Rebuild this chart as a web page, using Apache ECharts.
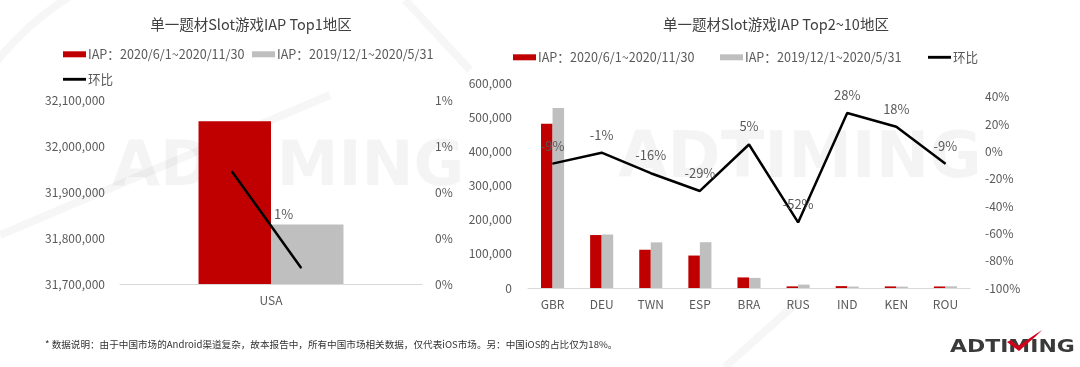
<!DOCTYPE html>
<html><head><meta charset="utf-8">
<script src="https://cdn.jsdelivr.net/npm/echarts@6/dist/echarts.min.js"></script>
<style>html,body{margin:0;padding:0;background:#fff}#c{width:1080px;height:367px}</style>
</head><body><div id="c"></div>
<script>
// ---- data ----
const seriesNames = ['IAP：2020/6/1~2020/11/30', 'IAP：2019/12/1~2020/5/31', '环比'];
const titles = ['单一题材Slot游戏IAP Top1地区', '单一题材Slot游戏IAP Top2~10地区'];

const top1Categories = ['USA'];
const top1Current = [32054000];
const top1Previous = [31829500];
const top1Growth = 0.007;            // 环比 (label shows 1%)
const top1LineX = [0.37, 0.6];       // drawn segment of the 环比 line (hidden value axis 0..1)
const top1LineY = [0.0049, 0.0007];  // on right axis
const top1LeftTicks = [31700000, 32100000, 100000];
const top1RightTicks = [0, 0.008, 0.002];

const top10Categories = ['GBR', 'DEU', 'TWN', 'ESP', 'BRA', 'RUS', 'IND', 'KEN', 'ROU'];
const top10Current = [481000, 155000, 112000, 95000, 31000, 4800, 5500, 4700, 4500];
const top10Previous = [527000, 156500, 133500, 134000, 29500, 10000, 4300, 4000, 4950];
const top10Growth = [-9, -1, -16, -29, 5, -52, 28, 18, -9];
const top10LeftTicks = [0, 600000, 100000];
const top10RightTicks = [-100, 50, 20];

const footnote = '* 数据说明：由于中国市场的Android渠道复杂，故本报告中，所有中国市场相关数据，仅代表iOS市场。另：中国iOS的占比仅为18%。';

// ---- styles ----
const FONT = '"Noto Sans CJK SC", "Noto Sans", sans-serif';
const RED = '#C00000', GRAY = '#BFBFBF', TXT = '#595959';
const axisLab = { color: TXT, fontSize: 12, fontFamily: FONT };
const LINE_ICON = 'path://M0,0H24V3H0Z';

const chart = echarts.init(document.getElementById('c'), null, { renderer: 'canvas' });

const mid = [(top1LineX[0] + top1LineX[1]) / 2, (top1LineY[0] + top1LineY[1]) / 2];
const top1LineData = [
  [top1LineX[0], top1LineY[0]],
  { value: mid, label: { show: true, formatter: Math.round(top1Growth * 100) + '%' } },
  [top1LineX[1], top1LineY[1]]
];

function legendItem(left, top, idx) {
  return {
    left: left, top: top, padding: 0, icon: 'rect', itemWidth: 23, itemHeight: 6, selectedMode: false,
    textStyle: { color: TXT, fontSize: 12.6, fontFamily: FONT, padding: [0, 0, 0, -3] },
    data: [idx === 2 ? { name: seriesNames[2], icon: LINE_ICON } : { name: seriesNames[idx] }]
  };
}

const option = {
  backgroundColor: '#fff',
  animation: false,
  textStyle: { fontFamily: FONT },
  title: [
    { text: titles[0], left: 246, top: 12, textAlign: 'center',
      textStyle: { color: '#404040', fontSize: 14.5, fontWeight: 'normal', fontFamily: FONT } },
    { text: titles[1], left: 771, top: 12, textAlign: 'center',
      textStyle: { color: '#404040', fontSize: 14.5, fontWeight: 'normal', fontFamily: FONT } }
  ],
  legend: [
    legendItem(63, 48, 0), legendItem(252, 48, 1), legendItem(63, 73, 2),
    legendItem(513, 51, 0), legendItem(720, 51, 1), legendItem(928, 51, 2)
  ],
  grid: [
    { left: 120, right: 658, top: 100, bottom: 83 },
    { left: 528, right: 110, top: 83, bottom: 79 }
  ],
  xAxis: [
    { type: 'category', gridIndex: 0, data: top1Categories,
      axisLine: { lineStyle: { color: '#D9D9D9', width: 1 } }, axisTick: { show: false },
      axisLabel: Object.assign({ margin: 10 }, axisLab) },
    { type: 'value', gridIndex: 0, min: 0, max: 1, show: false },
    { type: 'category', gridIndex: 1, data: top10Categories,
      axisLine: { lineStyle: { color: '#D9D9D9', width: 1 } }, axisTick: { show: false },
      axisLabel: Object.assign({ margin: 10 }, axisLab) }
  ],
  yAxis: [
    { type: 'value', gridIndex: 0, min: top1LeftTicks[0], max: top1LeftTicks[1], interval: top1LeftTicks[2],
      axisLine: { show: false }, axisTick: { show: false }, splitLine: { show: false },
      axisLabel: Object.assign({ margin: 15, formatter: v => v.toLocaleString('en-US') }, axisLab) },
    { type: 'value', gridIndex: 0, position: 'right', min: top1RightTicks[0], max: top1RightTicks[1], interval: top1RightTicks[2],
      axisLine: { show: false }, axisTick: { show: false }, splitLine: { show: false },
      axisLabel: Object.assign({ margin: 13, formatter: v => Math.round(v * 100) + '%' }, axisLab) },
    { type: 'value', gridIndex: 1, min: top10LeftTicks[0], max: top10LeftTicks[1], interval: top10LeftTicks[2],
      axisLine: { show: false }, axisTick: { show: false }, splitLine: { show: false },
      axisLabel: Object.assign({ margin: 16, formatter: v => v.toLocaleString('en-US') }, axisLab) },
    { type: 'value', gridIndex: 1, position: 'right', min: top10RightTicks[0], max: top10RightTicks[1], interval: top10RightTicks[2],
      axisLine: { show: false }, axisTick: { show: false }, splitLine: { show: false },
      axisLabel: Object.assign({ margin: 15, showMaxLabel: false, formatter: v => v + '%' }, axisLab) }
  ],
  series: [
    { name: seriesNames[0], type: 'bar', xAxisIndex: 0, yAxisIndex: 0, data: top1Current,
      barWidth: '24%', barGap: '0%', itemStyle: { color: RED } },
    { name: seriesNames[1], type: 'bar', xAxisIndex: 0, yAxisIndex: 0, data: top1Previous,
      barWidth: '24%', barGap: '0%', itemStyle: { color: GRAY } },
    { name: seriesNames[2], type: 'line', xAxisIndex: 1, yAxisIndex: 1, data: top1LineData,
      symbol: 'circle', symbolSize: 1, showSymbol: true, itemStyle: { color: '#000' },
      lineStyle: { color: '#000', width: 2.5 }, z: 5,
      label: { show: false, position: 'right', distance: 3, offset: [4, -6], color: TXT, fontSize: 13, fontFamily: FONT } },
    { name: seriesNames[0], type: 'bar', xAxisIndex: 2, yAxisIndex: 2, data: top10Current,
      barWidth: '23.5%', barGap: '0%', itemStyle: { color: RED } },
    { name: seriesNames[1], type: 'bar', xAxisIndex: 2, yAxisIndex: 2, data: top10Previous,
      barWidth: '23.5%', barGap: '0%', itemStyle: { color: GRAY } },
    { name: seriesNames[2], type: 'line', xAxisIndex: 2, yAxisIndex: 3, data: top10Growth,
      symbol: 'circle', symbolSize: 1, showSymbol: true, itemStyle: { color: '#000' },
      lineStyle: { color: '#000', width: 2.5 }, z: 5,
      label: { show: true, position: 'top', distance: 11, color: TXT, fontSize: 13, fontFamily: FONT,
               formatter: p => p.value + '%' } }
  ],
  graphic: [
    // faint background watermark
    { type: 'text', z: -10, silent: true, left: 112, top: 138,
      style: { text: 'ADTIMING', fill: 'rgba(0,0,0,0.045)', font: 'bold 62px "DejaVu Sans"' } },
    { type: 'text', z: -10, silent: true, left: 618, top: 128,
      style: { text: 'ADTIMING', fill: 'rgba(0,0,0,0.045)', font: 'bold 64px "DejaVu Sans"' } },
    { type: 'line', z: -10, silent: true, shape: { x1: 0, y1: 235, x2: 330, y2: 95 },
      style: { stroke: 'rgba(0,0,0,0.035)', lineWidth: 8 } },
    { type: 'line', z: -10, silent: true, shape: { x1: 405, y1: 0, x2: 470, y2: 70 },
      style: { stroke: 'rgba(0,0,0,0.035)', lineWidth: 8 } },
    { type: 'line', z: -10, silent: true, shape: { x1: 725, y1: 367, x2: 800, y2: 300 },
      style: { stroke: 'rgba(0,0,0,0.035)', lineWidth: 8 } },
    { type: 'arc', z: -10, silent: true, shape: { cx: 230, cy: 250, r: 300, startAngle: Math.PI * 1.1, endAngle: Math.PI * 1.55 },
      style: { stroke: 'rgba(0,0,0,0.035)', lineWidth: 8, fill: null } },
    // footnote
    { type: 'text', left: 45, top: 340,
      style: { text: footnote, fill: '#333', font: '9.6px "Noto Sans CJK SC"' } },
    // logo
    { type: 'text', x: 950, y: 338, scaleX: 1.22,
      style: { text: 'ADTIMING', fill: '#3a3a3a', font: 'bold 18px "DejaVu Sans"' } },
    { type: 'polygon', shape: { points: [[1007, 342], [1011, 340], [1018, 346], [1042, 330], [1035, 337], [1019, 351]] },
      style: { fill: '#D0021B' } }
  ]
};
chart.setOption(option);
</script>
</body></html>
